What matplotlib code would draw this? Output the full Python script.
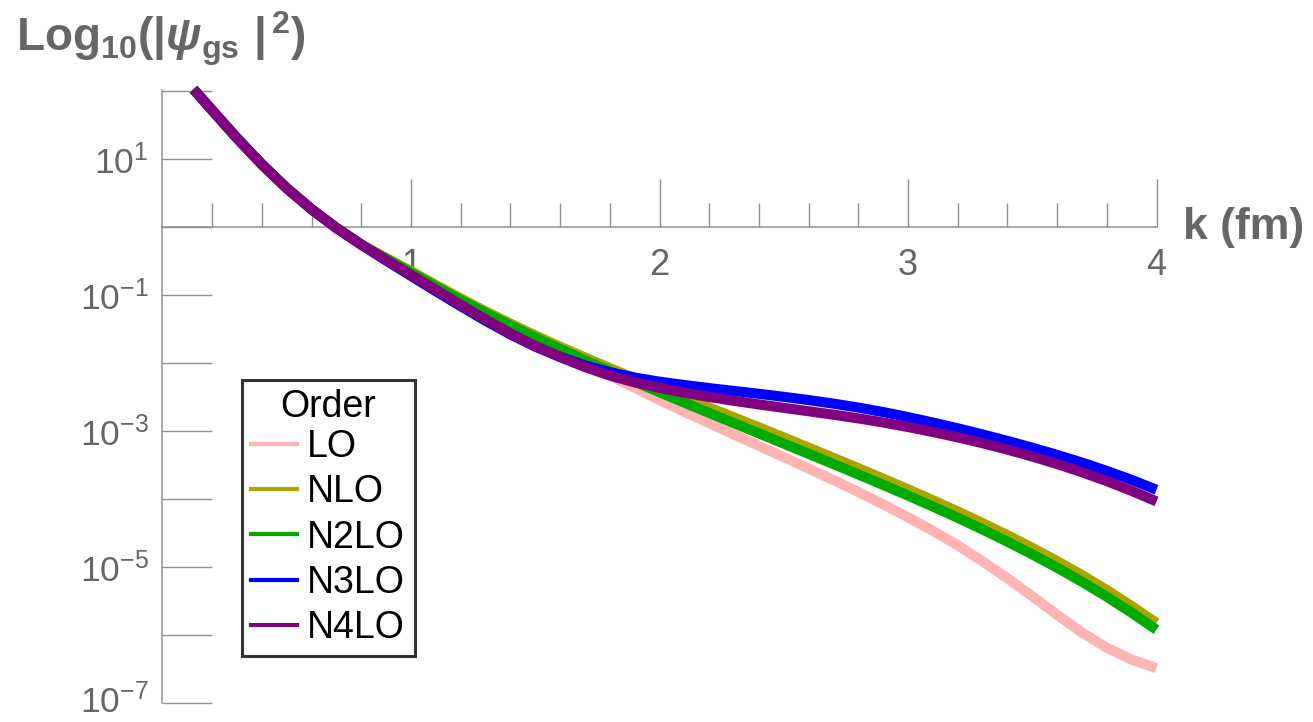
import numpy as np
import matplotlib
matplotlib.use("Agg")
import matplotlib.pyplot as plt
import matplotlib.transforms as mtransforms
from matplotlib.lines import Line2D
from matplotlib.ticker import FixedLocator, NullLocator

plt.rcParams['font.family'] = ['Liberation Sans', 'DejaVu Sans']
plt.rcParams['mathtext.fontset'] = 'custom'
plt.rcParams['mathtext.rm'] = 'Liberation Sans:bold'
plt.rcParams['mathtext.it'] = 'Liberation Sans:bold:italic'
plt.rcParams['mathtext.bf'] = 'Liberation Sans:bold'

# momentum grid (fm) and log10(|psi|^2)
k = [0.125, 0.2, 0.3, 0.4, 0.5, 0.6, 0.7, 0.8, 0.9, 1.0,
     1.1, 1.2, 1.3, 1.4, 1.5, 1.6, 1.7, 1.8, 1.9, 2.0,
     2.1, 2.2, 2.3, 2.4, 2.5, 2.6, 2.7, 2.8, 2.9, 3.0,
     3.1, 3.2, 3.3, 3.4, 3.5, 3.6, 3.7, 3.8, 3.9, 4.0]

head = [2.03, 1.72, 1.31, 0.925, 0.575, 0.265, -0.01, -0.255]

lo_log = head + [-0.47, -0.68, -0.895, -1.105, -1.31, -1.505, -1.69, -1.86, -2.01, -2.18, -2.36,
                 -2.54, -2.712, -2.881, -3.048, -3.214, -3.38, -3.547, -3.717, -3.892, -4.074,
                 -4.264, -4.464, -4.676, -4.911, -5.161, -5.426, -5.698, -5.958, -6.183, -6.358, -6.483]
nlo_log = head + [-0.45, -0.645, -0.848, -1.045, -1.235, -1.415, -1.59, -1.755, -1.915, -2.07, -2.22,
                  -2.365, -2.508, -2.65, -2.796, -2.941, -3.09, -3.24, -3.39, -3.543, -3.696,
                  -3.853, -4.013, -4.178, -4.349, -4.527, -4.713, -4.908, -5.114, -5.334, -5.569, -5.818]
n2lo_log = head + [-0.46, -0.665, -0.87, -1.07, -1.26, -1.445, -1.62, -1.79, -1.955, -2.115, -2.27,
                   -2.425, -2.578, -2.73, -2.881, -3.031, -3.181, -3.331, -3.482, -3.634, -3.788,
                   -3.945, -4.106, -4.272, -4.444, -4.623, -4.81, -5.006, -5.213, -5.433, -5.668, -5.918]
n3lo_log = head + [-0.49, -0.715, -0.94, -1.16, -1.375, -1.575, -1.755, -1.905, -2.03, -2.13, -2.21,
                   -2.27, -2.32, -2.365, -2.407, -2.449, -2.493, -2.541, -2.593, -2.651, -2.717,
                   -2.791, -2.871, -2.956, -3.046, -3.141, -3.241, -3.347, -3.46, -3.582, -3.715, -3.86]
n4lo_log = head + [-0.48, -0.70, -0.92, -1.14, -1.355, -1.56, -1.745, -1.91, -2.055, -2.18, -2.28,
                   -2.36, -2.432, -2.495, -2.552, -2.605, -2.655, -2.705, -2.756, -2.81, -2.87,
                   -2.937, -3.01, -3.089, -3.175, -3.269, -3.371, -3.481, -3.601, -3.733, -3.876, -4.031]

orders = ['LO', 'NLO', 'N2LO', 'N3LO', 'N4LO']
series = [lo_log, nlo_log, n2lo_log, n3lo_log, n4lo_log]
colors = ['#ffb3b3', '#aaa600', '#00aa00', '#0000ff', '#800080']

gray = '#666666'
axis_gray = '#8f8f8f'

fig = plt.figure(figsize=(13.13, 7.22), dpi=100)
ax = fig.add_axes([0.12376, 0.0259, 0.75705, 0.8533])

for vals, c in zip(series, colors):
    ax.plot(k, 10.0 ** np.array(vals), color=c, lw=7.3, solid_capstyle='butt',
            solid_joinstyle='round', zorder=3, clip_on=False)

ax.set_yscale('log')
ax.set_xlim(0, 4)
ax.set_ylim(1e-7, 10 ** 2.06)

for s in ['top', 'right']:
    ax.spines[s].set_visible(False)
ax.spines['bottom'].set_position(('data', 1.0))
ax.spines['left'].set_bounds(1e-7, 10 ** 2.02)
for s in ['bottom', 'left']:
    ax.spines[s].set_color(axis_gray)
    ax.spines[s].set_linewidth(1.1)

ax.xaxis.set_major_locator(FixedLocator([1, 2, 3, 4]))
ax.xaxis.set_minor_locator(FixedLocator([0.2 * i for i in range(1, 20) if i % 5]))
ax.tick_params(axis='x', which='major', direction='in', length=34.5, width=1.0,
               color=axis_gray, labelsize=26, labelcolor=gray, pad=15)
ax.tick_params(axis='x', which='minor', direction='in', length=17, width=1.0,
               color=axis_gray)

exps = list(range(-7, 3))
ax.yaxis.set_major_locator(FixedLocator([10.0 ** e for e in exps]))
ax.yaxis.set_minor_locator(NullLocator())
ax.set_yticklabels([r'$\mathregular{10^{%d}}$' % e if e % 2 else '' for e in exps])
ax.tick_params(axis='y', which='major', direction='in', length=36, width=1.0,
               color=axis_gray, labelsize=25.5, labelcolor=gray, pad=10)

# lift the bottom label a touch so it stays inside the canvas
bottom_lab = ax.yaxis.get_major_ticks()[0].label1
bottom_lab.set_transform(bottom_lab.get_transform()
                         + mtransforms.ScaledTranslation(0, 4 / 72, fig.dpi_scale_trans))

fig.text(1183 / 1313, 1 - 228 / 722, 'k (fm)', fontsize=32, fontweight='bold',
         color=gray, ha='left', va='center')
fig.text(16 / 1313, 1 - 52 / 722,
         r'$\mathrm{Log_{10}(|}\mathit{\psi}_{\mathrm{gs}}\ \mathrm{|^{\,2})}$',
         fontsize=33, color=gray, ha='left', va='baseline')

handles = [Line2D([], [], color=c, lw=3) for c in colors]
leg = fig.legend(handles, orders, title='Order', loc='upper left',
                 bbox_to_anchor=(242 / 1313, 1 - 380 / 722), bbox_transform=fig.transFigure,
                 borderaxespad=0, fontsize=27, title_fontsize=27, frameon=True,
                 fancybox=False, handlelength=1.22, handletextpad=0.27,
                 labelspacing=0.25, borderpad=0.25)
leg._legend_box.sep = 2.5
leg.get_frame().set_edgecolor('black')
leg.get_frame().set_linewidth(2.2)

fig.savefig('out.png', dpi=100)
